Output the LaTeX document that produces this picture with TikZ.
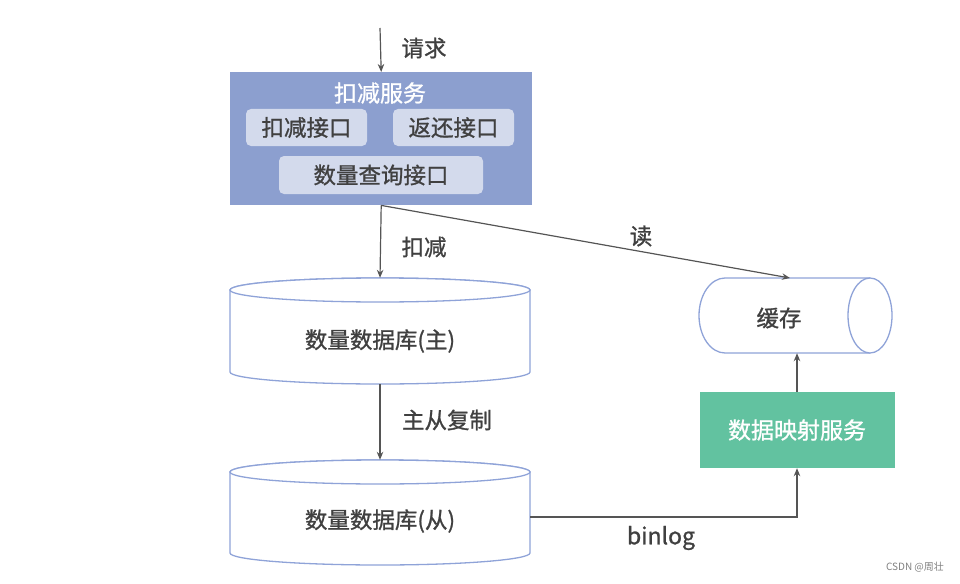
\documentclass[tikz,border=0pt]{standalone}
\usepackage{fontspec}
\setmainfont{Noto Sans CJK SC}[BoldFont={Noto Sans CJK SC},BoldFeatures={FakeBold=1.0}]
\usetikzlibrary{arrows.meta}
\definecolor{txt}{HTML}{404040}
\definecolor{svc}{HTML}{8C9FCF}
\definecolor{inner}{HTML}{D3DAEC}
\definecolor{dbline}{HTML}{8FA3D8}
\definecolor{green}{HTML}{62C2A0}
\definecolor{arr}{HTML}{555555}
\tikzset{
  conn/.style={draw=arr, line width=1.2pt, -{Stealth[length=8pt,width=6.5pt]}},
  lbl/.style={text=txt, font=\fontsize{22.5}{22.5}\selectfont\bfseries, inner sep=0pt},
  innerbox/.style={fill=inner, rounded corners=5pt, text=txt, font=\fontsize{22.5}{22.5}\selectfont\bfseries, inner sep=0pt},
  dbpath/.style={draw=dbline, line width=1.3pt, fill=white},
  anchorbox/.style={draw=none, inner sep=0pt}
}
\begin{document}
\begin{tikzpicture}[x=1pt,y=-1pt]
\useasboundingbox (0,0) rectangle (960,583);
% service box
\node[fill=svc, minimum width=302pt, minimum height=133pt, inner sep=0pt, anchor=north west] (svc) at (230,72) {};
\node[text=white, font=\fontsize{23}{23}\selectfont\bfseries, inner sep=0pt] (svct) at (380,93) {扣减服务};
\node[innerbox, minimum width=121pt, minimum height=37pt] (i1) at (306.5,127.5) {扣减接口};
\node[innerbox, minimum width=121pt, minimum height=37pt] (i2) at (453.5,127.5) {返还接口};
\node[innerbox, minimum width=204pt, minimum height=38pt] (i3) at (381,175) {数量查询接口};
% request arrow
\coordinate (req) at (380,28);
\draw[conn] (req) -- (svc.north);
\node[lbl] (lreq) at (424,48) {请求};
% master DB
\draw[dbpath] (230,290) arc[start angle=180, end angle=360, x radius=150, y radius=12] -- (530,372)
  arc[start angle=0, end angle=180, x radius=150, y radius=12] -- cycle;
\draw[dbpath] (380,290) ellipse[x radius=150, y radius=12];
\node[anchorbox, minimum width=300pt, minimum height=106pt] (db1) at (380,331) {};
\node[lbl] (db1t) at (380,341) {数量数据库(主)};
% slave DB
\draw[dbpath] (230,472) arc[start angle=180, end angle=360, x radius=150, y radius=12] -- (530,553)
  arc[start angle=0, end angle=180, x radius=150, y radius=12] -- cycle;
\draw[dbpath] (380,472) ellipse[x radius=150, y radius=12];
\node[anchorbox, minimum width=300pt, minimum height=105pt] (db2) at (380,512.5) {};
\node[lbl] (db2t) at (380,521) {数量数据库(从)};
% cache
\draw[dbpath] (870,278) -- (725,278) arc[start angle=270, end angle=90, x radius=26, y radius=37.5] -- (870,353);
\draw[dbpath] (870,315.5) ellipse[x radius=22, y radius=37.5];
\node[anchorbox, minimum width=194pt, minimum height=75pt] (cache) at (796,315.5) {};
\node[lbl] (cachet) at (779,318) {缓存};
% mapping service
\node[fill=green, minimum width=195pt, minimum height=76pt, inner sep=0pt, text=white, font=\fontsize{23}{23}\selectfont\bfseries] (map) at (797,430) {数据映射服务};
% connectors
\draw[conn] (svc.south) -- (db1.north);
\node[lbl] (lkj) at (424,247) {扣减};
\coordinate (readend) at (790,278);
\draw[conn] (svc.south) -- (readend);
\node[lbl] (lread) at (641,236) {读};
\draw[conn] (db1.south) -- (db2.north);
\node[lbl] (lrep) at (447,420) {主从复制};
\draw[conn] (map.north) -- (map.north |- cache.south);
\draw[conn] (db2.east |- 0,517) -| (map.south);
\node[lbl, font=\fontsize{23}{23}\selectfont\bfseries] (lbin) at (661,538) {binlog};
\node[text=gray, font=\fontsize{10}{10}\selectfont, inner sep=0pt] (csdn) at (915,567) {CSDN @周壮};
\end{tikzpicture}
\end{document}
